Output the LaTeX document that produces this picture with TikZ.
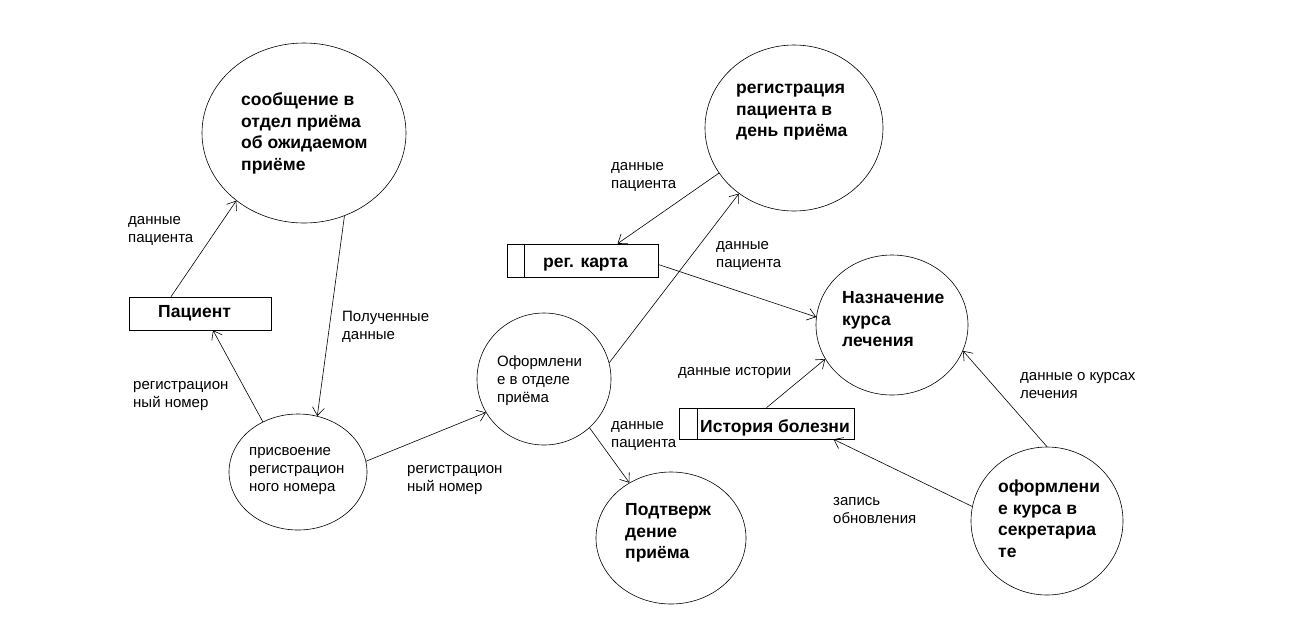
\documentclass[tikz,border=0pt]{standalone}
\usepackage{fontspec}
\setmainfont{Liberation Sans}
\usetikzlibrary{shapes.geometric,arrows.meta}
\newcommand\mystrut{\rule{0pt}{1em}}
\tikzset{
  x=1pt,y=-1pt,
  ell/.style={ellipse,draw,inner sep=0pt,line width=0.6pt},
  box/.style={rectangle,draw,inner sep=0pt,line width=0.6pt},
  bt/.style={font=\bfseries\fontsize{17.5}{21.8}\selectfont,align=left,anchor=north west,inner sep=0pt},
  rt/.style={font=\fontsize{15}{18}\selectfont,align=left,anchor=north west,inner sep=0pt},
  arr/.style={line width=0.6pt,-{Straight Barb[length=8pt,width=12pt,line width=0.6pt]}},
}
\begin{document}
\begin{tikzpicture}
\useasboundingbox[fill=white] (0,0) rectangle (1291,622);
% process bubbles
\node[ell,minimum width=204pt,minimum height=180pt] (c1) at (304,133) {};
\node[ell,minimum width=178pt,minimum height=166pt] (c2) at (794,128) {};
\node[ell,minimum width=138pt,minimum height=116pt] (c3) at (298,472) {};
\node[ell,minimum width=134pt,minimum height=132pt] (c4) at (544,379) {};
\node[ell,minimum width=152pt,minimum height=140pt] (c5) at (892,325) {};
\node[ell,minimum width=150pt,minimum height=132pt] (c6) at (671,538) {};
\node[ell,minimum width=152pt,minimum height=148pt] (c7) at (1047,521) {};
% entities and stores
\node[box,minimum width=142pt,minimum height=33pt] (pac) at (200,313.5) {};
\node[box,minimum width=151pt,minimum height=33pt] (kar) at (582.5,260.5) {};
\node[box,minimum width=175pt,minimum height=31pt] (ist) at (766.5,423.5) {};
\draw[line width=0.6pt] ([xshift=18pt]kar.north west) -- ([xshift=18pt]kar.south west);
\draw[line width=0.6pt] ([xshift=19pt]ist.north west) -- ([xshift=19pt]ist.south west);
% texts in shapes
\node[bt] (t1) at (241,87.5) {\mystrut сообщение в\\отдел приёма\\об ожидаемом\\приёме};
\node[bt] (t2) at (736,75.5) {\mystrut регистрация\\пациента в\\день приёма};
\node[rt] (t3) at (249,440) {\mystrut присвоение\\регистрацион\\ного номера};
\node[rt] (t4) at (497,351) {\mystrut Оформлени\\е в отделе\\приёма};
\node[bt] (t5) at (842,285.5) {\mystrut Назначение\\курса\\лечения};
\node[bt] (t6) at (625,497.5) {\mystrut Подтверж\\дение\\приёма};
\node[bt] (t7) at (998,474.5) {\mystrut оформлени\\е курса в\\секретариа\\те};
\node[bt] (tp) at (158,299.5) {\mystrut Пациент};
\node[bt] (tk) at (543,249.5) {\mystrut рег. карта};
\node[bt] (ti) at (700,414.5) {\mystrut История болезни};
% flow labels
\node[rt] (l1) at (128,209) {\mystrut данные\\пациента};
\node[rt] (l2) at (342,306) {\mystrut Полученные\\данные};
\node[rt] (l3) at (133,374) {\mystrut регистрацион\\ный номер};
\node[rt] (l4) at (407,458) {\mystrut регистрацион\\ный номер};
\node[rt] (l5) at (611,155) {\mystrut данные\\пациента};
\node[rt] (l6) at (716,234) {\mystrut данные\\пациента};
\node[rt] (l7) at (678,360) {\mystrut данные истории};
\node[rt] (l8) at (611,414) {\mystrut данные\\пациента};
\node[rt] (l9) at (1020,365) {\mystrut данные о курсах\\лечения};
\node[rt] (l10) at (833,490) {\mystrut запись\\обновления};
% flows
\draw[arr] ([xshift=-29pt]pac.north) -- (c1.225);
\draw[arr] (c1.-64) -- (c3.71);
\draw[arr] (c3.125) -- ([xshift=13pt]pac.south);
\draw[arr] (c3.9) -- (c4.210);
\draw[arr] (c4.14) -- (c2.230);
\draw[arr] (c2.211) -- ([xshift=35pt]kar.north);
\draw[arr] ([yshift=-4pt]kar.east) -- (c5.174);
\draw[arr] (ist.north) -- (c5.207);
\draw[arr] (c4.-47) -- (c6.127);
\draw[arr] (c7.north) -- (c5.-20);
\draw[arr] (c7.169) -- ([xshift=67pt]ist.south);
\end{tikzpicture}
\end{document}
